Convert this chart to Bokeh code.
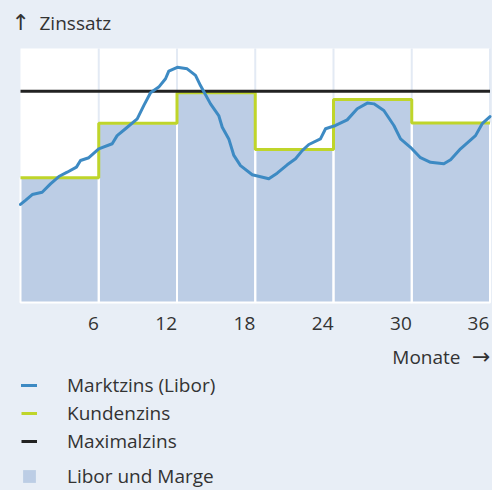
from bokeh.plotting import figure
from bokeh.models import (Range1d, FixedTicker, Legend, LegendItem, Label, BoxAnnotation)
from bokeh.embed import file_html
from bokeh.resources import INLINE

# ---- data ----
tick_months = [6, 12, 18, 24, 30, 36]
tick_labels = ["6", "12", "18", "24", "30", "36"]

period_start = [0, 6, 12, 18, 24, 30]
period_end = [6, 12, 18, 24, 30, 36]
kundenzins = [4.91, 7.06, 8.26, 6.02, 7.99, 7.07]
max_zins = 8.32

libor_month = [0.0, 0.38, 0.9, 1.66, 2.3, 2.94, 3.58, 4.29, 4.6, 5.24, 6.0, 7.03, 7.41,
               8.05, 8.95, 9.46, 9.97, 10.6, 11.12, 11.37, 12.02, 12.78, 13.42, 13.8,
               14.57, 15.2, 15.47, 15.97, 16.36, 16.87, 17.77, 19.04, 19.68, 20.45,
               21.09, 21.6, 22.11, 23.0, 23.39, 24.16, 25.05, 25.82, 26.59, 27.1,
               27.86, 28.63, 29.14, 29.9, 30.67, 31.44, 32.46, 32.98, 33.74, 34.89,
               35.4, 36.0]
libor_rate = [3.86, 4.02, 4.25, 4.34, 4.67, 4.96, 5.13, 5.33, 5.59, 5.7, 6.05, 6.25, 6.57,
              6.84, 7.23, 7.76, 8.26, 8.48, 8.81, 9.11, 9.26, 9.2, 8.94, 8.54,
              7.82, 7.36, 6.9, 6.44, 5.79, 5.39, 5.03, 4.87, 5.09, 5.42,
              5.66, 5.98, 6.22, 6.44, 6.84, 6.97, 7.19, 7.63, 7.85, 7.82,
              7.56, 6.97, 6.44, 6.11, 5.7, 5.52, 5.46, 5.62, 6.05, 6.57,
              7.04, 7.32]

# ---- layout (pixels) & styles ----
W, H = 492, 490
PL, PR, PT, PB = 20.0, 489.5, 48.0, 302.0      # plot-area box in pixels
X0, X1, Y0, Y1 = 0, 36, 0, 10                   # plot-area box in data units
sx = (X1 - X0) / (PR - PL)
sy = (Y1 - Y0) / (PB - PT)

BG = "#e8eef6"
FILL = "#bccde5"
BLUE = "#3d8ac3"
GREEN = "#bfd52a"
BLACK = "#222222"
GRID = "#e3eaf4"
TEXT = "#333333"
FONT = "Open Sans"
ARROWFONT = "DejaVu Sans"
FS = "19px"
FIGSP = "\u2007"
THINSP = "\u2009"

p = figure(width=W, height=H, output_backend="svg", toolbar_location=None,
           x_range=Range1d(X0 - PL * sx, X1 + (W - PR) * sx),
           y_range=Range1d(Y0 - (H - PB) * sy, Y1 + PT * sy))
p.min_border_left = p.min_border_right = p.min_border_top = p.min_border_bottom = 0
p.title.visible = False
p.background_fill_color = BG
p.border_fill_color = BG
p.outline_line_color = None
p.grid.visible = False
p.yaxis.visible = False

# white plot area
p.add_layout(BoxAnnotation(left=X0, right=X1, bottom=Y0, top=Y1, fill_color="white",
                           fill_alpha=1, line_color=None, level="underlay"))

# vertical grid lines inside the plot area
p.segment(x0=tick_months, y0=[Y0] * len(tick_months), x1=tick_months,
          y1=[Y1] * len(tick_months), line_color=GRID, line_width=2)

# x axis fixed at y = 0; labels right-aligned to their tick (padding trick)
overrides = {}
for m, l in zip(tick_months, tick_labels):
    overrides[m] = l + (THINSP if m == tick_months[-1] else FIGSP * len(l))
ax = p.xaxis[0]
ax.fixed_location = Y0
ax.ticker = FixedTicker(ticks=tick_months)
ax.major_label_overrides = overrides
ax.axis_line_color = None
ax.major_tick_line_color = None
ax.minor_tick_line_color = None
ax.major_tick_out = 0
ax.major_tick_in = 0
ax.major_label_standoff = 7
ax.major_label_text_font = FONT
ax.major_label_text_font_size = FS
ax.major_label_text_color = TEXT

mid = [(a + b) / 2 for a, b in zip(period_start, period_end)]
wid = [b - a for a, b in zip(period_start, period_end)]
bars = p.vbar(x=mid, width=wid, top=kundenzins, bottom=0,
              fill_color=FILL, line_color=None)
p.vbar(x=mid, width=wid, top=kundenzins, bottom=0,
       fill_color=None, line_color="white", line_width=2)

step_x = period_start + [period_end[-1]]
step_y = kundenzins + [kundenzins[-1]]
kline = p.step(step_x, step_y, mode="after", line_color=GREEN, line_width=3)

maxline = p.line([X0, X1], [max_zins, max_zins], line_color=BLACK, line_width=3)

lline = p.line(libor_month, libor_rate, line_color=BLUE, line_width=3,
               line_join="round", line_cap="round")

# axis titles
def lab(xpx, ypx, text, font, size, align="left"):
    p.add_layout(Label(x=X0 + (xpx - PL) * sx, y=Y0 + (PB - ypx) * sy, text=text,
                       text_font=font, text_font_size=size, text_color=TEXT,
                       text_align=align, text_baseline="alphabetic"))

lab(11, 22, "\u2191", ARROWFONT, "22px")
lab(39, 22, "Zinssatz", FONT, FS)
lab(460, 356, "Monate", FONT, FS, align="right")
lab(490, 356, "\u2192", ARROWFONT, "22px", align="right")

def style_legend(lg):
    lg.background_fill_alpha = 0
    lg.border_line_color = None
    lg.padding = 0
    lg.margin = 0
    lg.spacing = 0
    lg.label_text_font = FONT
    lg.label_text_font_size = FS
    lg.label_text_color = TEXT
    lg.glyph_width = 16

leg1 = Legend(items=[LegendItem(label="Marktzins (Libor)", renderers=[lline]),
                     LegendItem(label="Kundenzins", renderers=[kline]),
                     LegendItem(label="Maximalzins", renderers=[maxline])],
              location=(21, 35))
style_legend(leg1)
leg1.glyph_height = 28
leg1.label_height = 28
leg1.label_standoff = 30
p.add_layout(leg1)

leg2 = Legend(items=[LegendItem(label="Libor und Marge", renderers=[bars])],
              location=(21, 1))
style_legend(leg2)
leg2.glyph_height = 16
leg2.label_height = 16
leg2.label_standoff = 30
p.add_layout(leg2)

html = file_html(p, INLINE)
html = html.replace("<head>", "<head><style>html,body{margin:0;padding:0;background:%s;}</style>" % BG, 1)
open("out.html", "w").write(html)
